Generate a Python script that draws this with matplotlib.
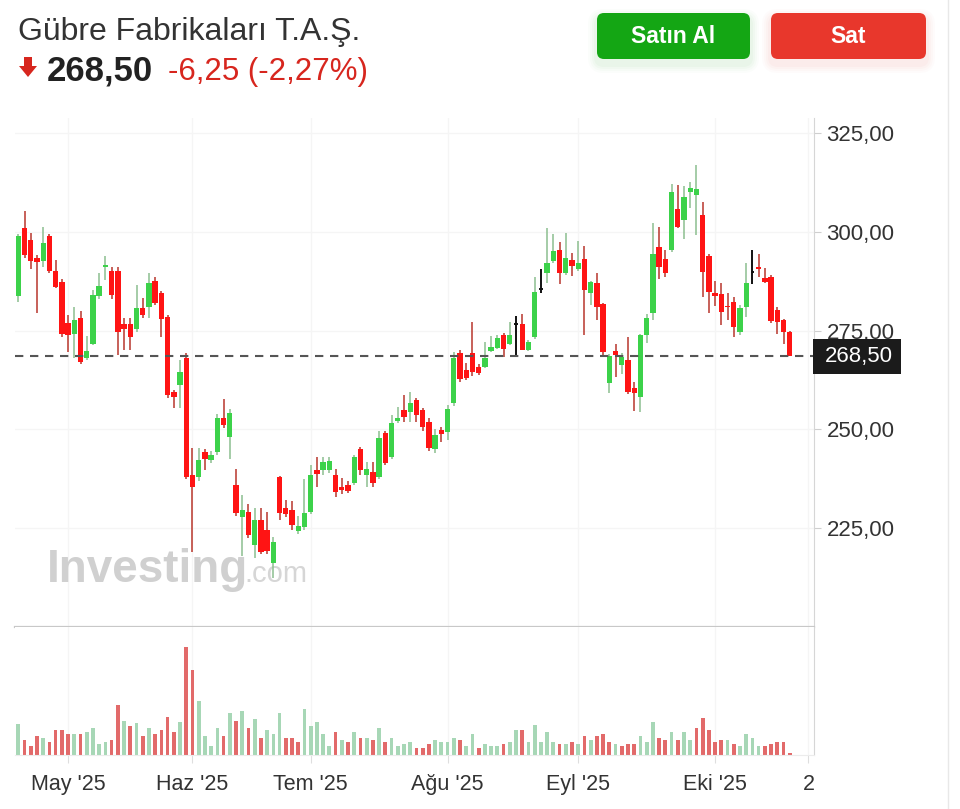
import matplotlib
matplotlib.use("Agg")
import matplotlib.pyplot as plt
from matplotlib.patches import FancyBboxPatch, Polygon, Rectangle
from matplotlib.transforms import blended_transform_factory
import numpy as np

plt.rcParams['font.family'] = ['Liberation Sans', 'DejaVu Sans']

# ---------------- data ----------------
opens = [283.7, 301.0, 297.9, 293.4, 292.6, 298.9, 290.1, 287.3, 277.0, 274.1,
         278.2, 268.0, 271.6, 283.7, 291.0, 290.1, 290.1, 276.6, 276.6, 275.4,
         280.7, 281.0, 287.5, 284.5, 278.4, 259.4, 261.2, 268.0, 238.4, 237.9,
         244.2, 242.2, 244.2, 252.8, 248.0, 235.9, 227.8, 229.1, 220.7, 227.0,
         224.5, 216.1, 237.9, 230.0, 229.6, 224.3, 225.3, 229.1, 239.7, 239.7,
         239.7, 238.4, 235.4, 235.9, 236.4, 245.0, 238.4, 239.2, 237.9, 249.1,
         243.0, 252.1, 254.9, 254.4, 257.4, 254.9, 251.8, 245.0, 249.8, 249.3,
         256.6, 269.3, 265.0, 269.3, 265.8, 265.8, 269.8, 270.6, 273.9, 271.6,
         276.6, 276.6, 270.1, 273.4, 285.5, 289.6, 292.6, 295.4, 289.6, 292.8,
         290.6, 293.1, 284.5, 287.0, 281.7, 261.7, 269.8, 266.3, 267.5, 260.4,
         258.2, 273.9, 279.4, 296.1, 293.1, 295.4, 305.8, 303.0, 310.1, 309.3,
         304.2, 293.9, 284.5, 284.2, 281.2, 282.2, 274.6, 281.0, 289.8, 291.1,
         288.3, 288.5, 280.2, 277.7, 274.75]
highs = [299.5, 305.3, 299.7, 294.2, 301.2, 299.5, 292.8, 288.0, 279.0, 281.0,
         280.0, 273.6, 285.3, 289.5, 293.9, 291.0, 291.0, 278.2, 278.2, 286.5,
         283.2, 289.6, 288.6, 285.0, 279.0, 260.0, 267.5, 269.3, 245.3, 245.3,
         245.0, 244.5, 254.0, 257.7, 255.1, 240.0, 233.4, 231.1, 230.1, 230.1,
         229.0, 222.7, 238.3, 232.1, 232.0, 228.0, 237.4, 241.0, 243.0, 243.0,
         243.0, 240.0, 237.7, 237.0, 243.5, 245.5, 241.7, 241.7, 249.6, 249.5,
         253.6, 255.6, 258.7, 259.4, 258.0, 255.5, 253.0, 250.0, 250.6, 256.1,
         269.6, 270.0, 266.8, 277.2, 266.5, 272.1, 273.6, 274.0, 274.3, 277.2,
         278.7, 279.2, 272.5, 288.5, 290.6, 301.0, 299.4, 297.4, 299.7, 294.6,
         297.7, 296.4, 287.5, 289.6, 282.0, 269.0, 271.6, 269.3, 273.4, 262.0,
         274.2, 279.2, 302.2, 301.2, 295.4, 312.1, 311.8, 311.6, 312.6, 316.9,
         307.5, 294.5, 287.5, 287.0, 284.5, 283.5, 281.5, 292.1, 295.4, 294.4,
         290.8, 289.0, 281.0, 278.0, 275.0]
lows = [282.2, 293.5, 290.6, 279.4, 291.1, 289.5, 285.8, 273.4, 269.6, 268.0,
        266.6, 267.6, 271.4, 283.0, 287.8, 283.0, 268.8, 270.1, 270.1, 274.6,
        278.2, 278.2, 281.5, 273.4, 258.0, 255.4, 255.4, 237.5, 218.9, 237.0,
        239.7, 241.5, 243.5, 250.3, 242.5, 228.0, 218.0, 222.5, 217.4, 218.5,
        218.5, 212.3, 227.0, 227.8, 224.5, 223.5, 224.5, 228.5, 235.4, 238.5,
        239.0, 232.9, 233.6, 234.0, 236.0, 238.4, 235.4, 235.4, 237.5, 241.0,
        242.5, 251.5, 251.8, 251.8, 252.0, 249.5, 244.5, 244.0, 246.8, 247.3,
        256.0, 262.0, 262.5, 263.5, 263.8, 265.5, 269.5, 270.3, 268.3, 271.3,
        268.3, 270.0, 269.8, 273.0, 284.5, 287.0, 292.0, 286.8, 289.0, 288.8,
        290.2, 273.9, 281.5, 277.7, 268.5, 259.2, 263.2, 264.0, 259.0, 254.6,
        254.4, 271.8, 277.7, 288.0, 288.5, 294.8, 301.0, 298.2, 306.0, 299.2,
        283.5, 279.4, 281.2, 276.4, 277.7, 273.4, 274.0, 278.4, 286.8, 288.5,
        287.0, 277.0, 274.1, 271.6, 268.5]
closes = [298.9, 294.1, 292.6, 292.4, 297.2, 290.1, 286.0, 274.1, 273.9, 277.7,
          267.0, 269.9, 284.0, 286.2, 291.6, 284.0, 274.6, 275.4, 273.4, 280.7,
          278.9, 287.0, 282.0, 277.9, 258.7, 258.2, 264.5, 237.9, 235.4, 242.2,
          242.5, 243.5, 252.8, 251.1, 254.1, 228.8, 229.6, 223.2, 227.0, 218.9,
          219.2, 221.5, 228.8, 228.6, 225.8, 225.5, 228.8, 238.4, 238.6, 241.7,
          241.9, 234.1, 234.6, 234.4, 243.0, 239.7, 239.9, 236.4, 247.8, 241.5,
          251.6, 253.0, 253.2, 256.6, 253.6, 250.6, 245.3, 248.5, 248.8, 255.1,
          268.0, 262.7, 263.0, 264.5, 264.3, 268.0, 270.9, 273.1, 270.3, 273.9,
          276.6, 270.1, 272.1, 284.8, 285.5, 292.1, 295.1, 289.6, 293.4, 291.3,
          292.1, 285.3, 287.3, 281.0, 269.5, 268.5, 268.8, 268.3, 259.4, 259.2,
          273.9, 278.2, 294.4, 291.1, 289.6, 310.1, 301.2, 308.8, 311.1, 310.8,
          289.8, 284.7, 283.7, 279.7, 281.0, 275.9, 280.7, 287.0, 289.8, 290.6,
          287.3, 277.4, 277.2, 274.75, 268.5]
volumes = [30.7, 15, 9, 19, 16.7, 13.3, 25, 25, 21, 21,
           21, 22.7, 26.7, 11, 12.7, 15, 50, 34, 29, 32.3,
           19, 26.7, 21, 25, 38.3, 22.7, 32.7, 108.3, 85, 54,
           19, 9.3, 26.7, 19, 42.3, 34.3, 44, 26.7, 36, 17.3,
           25, 21, 42.3, 17.3, 17.3, 13.3, 46, 29, 32.7, 21,
           9.3, 22.7, 15, 13.3, 22.7, 17.3, 17.3, 15, 26.7, 13.3,
           17.3, 9.3,
           11, 13.3, 7.3, 7.3, 11, 15, 13.3, 13.3, 17.3, 15,
           9.3, 21, 7.3, 11, 9.3, 9.3, 11, 13.3, 25, 25,
           13.3, 30, 13.3, 22.7, 13.3, 11, 11, 13.3, 11, 19,
           15, 19, 21, 13.3, 11, 9.3, 11, 11, 19, 13.3,
           32.7, 17.3, 15, 22.7, 15, 22.7, 15, 26.7, 36.7, 25,
           13.3, 15, 15, 11, 9.3, 21, 17.3, 9.3, 9.3, 11,
           13.3, 13.3, 1.7]
month_labels = ["May '25", "Haz '25", "Tem '25", "Ağu '25", "Eyl '25", "Eki '25", "2"]
month_pos = [8, 28, 47, 69, 90, 112, 127]
price_ticks = [225, 250, 275, 300, 325]
title = "Gübre Fabrikaları T.A.Ş."
last_price = 268.50
change = -6.25
change_pct = -2.27

def fmt(v):
    return f"{v:.2f}".replace('.', ',')

# ---------------- figure ----------------
W, H = 960, 809
fig = plt.figure(figsize=(W / 100, H / 100), dpi=100)
fig.patch.set_facecolor('white')

def box(x0, y0, x1, y1):
    return [x0 / W, 1 - y1 / H, (x1 - x0) / W, (y1 - y0) / H]

GREEN = '#3cd24a'
RED = '#ff1414'
GREEN_WICK = '#8cbf8f'
RED_WICK = '#b8362c'
VOL_GREEN = '#a7d7b6'
VOL_RED = '#e26a6a'
GRID = '#f5f5f5'

ax = fig.add_axes(box(15, 118, 814, 627))
axv = fig.add_axes(box(15, 627, 814, 755), sharex=ax)

x = np.arange(len(opens))
o = np.array(opens); c = np.array(closes); hi = np.array(highs); lo = np.array(lows)
up = c > o
down = c < o
doji = c == o

# wicks
ax.vlines(x[up], lo[up], hi[up], color=GREEN_WICK, lw=1.1, zorder=2)
ax.vlines(x[down], lo[down], hi[down], color=RED_WICK, lw=1.1, zorder=2)
ax.vlines(x[doji], lo[doji], hi[doji], color='#111111', lw=1.4, zorder=3)
ax.hlines(o[doji], x[doji] - 0.3, x[doji] + 0.3, color='#111111', lw=1.4, zorder=3)
# bodies
bw = 0.86
ax.bar(x[up], (c - o)[up], bottom=o[up], width=bw, color=GREEN, zorder=3, linewidth=0)
ax.bar(x[down], (o - c)[down], bottom=c[down], width=bw, color=RED, zorder=3, linewidth=0)

ax.set_xlim(-0.53, 127.9)
ax.set_ylim(200.0, 328.8)
ax.set_yticks(price_ticks)
ax.set_yticklabels([fmt(v) for v in price_ticks])
ax.yaxis.tick_right()
ax.tick_params(axis='y', labelsize=16, labelcolor='#333333', color='#cfcfcf', length=5, pad=4)
ax.tick_params(axis='x', bottom=False, labelbottom=False)
for v in price_ticks:
    ax.axhline(v, color=GRID, lw=1, zorder=0)
for p in month_pos:
    ax.axvline(p, color=GRID, lw=1, zorder=0)
for s in ['top', 'left']:
    ax.spines[s].set_visible(False)
ax.spines['right'].set_color('#d6d6d6')
ax.spines['bottom'].set_color('#c8c8c8')
ax.spines['bottom'].set_linewidth(1.6)

# last price line and label
ax.axhline(last_price, color='#555555', lw=1.5, ls=(0, (4, 3.2)), zorder=4)
bt = blended_transform_factory(ax.transAxes, ax.transData)
bh = 35 / 3.95
ax.add_patch(Rectangle((0.9987, last_price - bh / 2), 88 / 799, bh, transform=bt,
                       facecolor='#1b1b1b', edgecolor='none', clip_on=False, zorder=6))
ax.text((825 - 15) / 799, last_price, fmt(last_price), transform=bt, color='white',
        fontsize=16, va='center', ha='left', clip_on=False, zorder=7)

# watermark
ax.text((47 - 15) / 799, (627 - 582) / 509, "Investing", transform=ax.transAxes,
        fontsize=33, fontweight='bold', color='#d0d0d0', va='baseline', ha='left', zorder=1)
ax.text((244 - 15) / 799, (627 - 582) / 509, ".com", transform=ax.transAxes,
        fontsize=21, color='#d6d6d6', va='baseline', ha='left', zorder=1)

# volume
vol = np.array(volumes)
prev = np.concatenate([[c[0] - 1], c[:-1]])
vcol = np.where(c >= prev, VOL_GREEN, VOL_RED)
axv.bar(x, vol, width=0.6, color=vcol, linewidth=0, zorder=2)
axv.set_ylim(0, 128)
axv.set_yticks([])
for p in month_pos:
    axv.axvline(p, color=GRID, lw=1, zorder=0)
axv.set_xticks(month_pos)
axv.set_xticklabels(month_labels)
axv.tick_params(axis='x', labelsize=15.5, labelcolor='#333333', color='#dedede', length=6, pad=8)
for s in ['top', 'left']:
    axv.spines[s].set_visible(False)
axv.spines['right'].set_color('#d6d6d6')
axv.spines['bottom'].set_color('#ececec')

# ---------------- header overlay ----------------
hd = fig.add_axes([0, 0, 1, 1])
hd.set_xlim(0, W); hd.set_ylim(H, 0)
hd.axis('off')
hd.patch.set_alpha(0)

hd.text(18, 40, title, fontsize=23, color='#333333', va='baseline', ha='left')
hd.add_patch(Polygon([[24, 57], [32, 57], [32, 66], [37, 66], [28, 77], [19, 66], [24, 66]],
                     closed=True, facecolor='#d7261e', edgecolor='none'))
hd.text(47, 80, fmt(last_price), fontsize=25, fontweight='bold', color='#222222',
        va='baseline', ha='left')
hd.text(168, 80, f"{fmt(change)} ({fmt(change_pct)}%)", fontsize=22.5, color='#d7261e',
        va='baseline', ha='left')

# buttons with soft shadows
for (x0, x1, col, sh, lab) in [(597, 750, '#14a614', '#cdeccd', 'Satın Al'),
                               (771, 926, '#e8372c', '#f8d6d3', 'Sat')]:
    for k, a in [(9, 0.08), (7, 0.10), (5, 0.14), (3, 0.2)]:
        hd.add_patch(FancyBboxPatch((x0 - k, 13 - k + 5), (x1 - x0) + 2 * k, 46 + 2 * k,
                                    boxstyle='round,pad=0,rounding_size=%d' % (7 + k),
                                    facecolor=sh, edgecolor='none', alpha=a))
    hd.add_patch(FancyBboxPatch((x0, 13), x1 - x0, 46, boxstyle='round,pad=0,rounding_size=7',
                                facecolor=col, edgecolor='none'))
    hd.text((x0 + x1) / 2, 36, lab, fontsize=16.5, fontweight='bold', color='white',
            ha='center', va='center')

# right border of widget
hd.plot([948, 948], [0, H], color='#e8e8e8', lw=1)

fig.savefig('out.png', dpi=100, facecolor='white')
